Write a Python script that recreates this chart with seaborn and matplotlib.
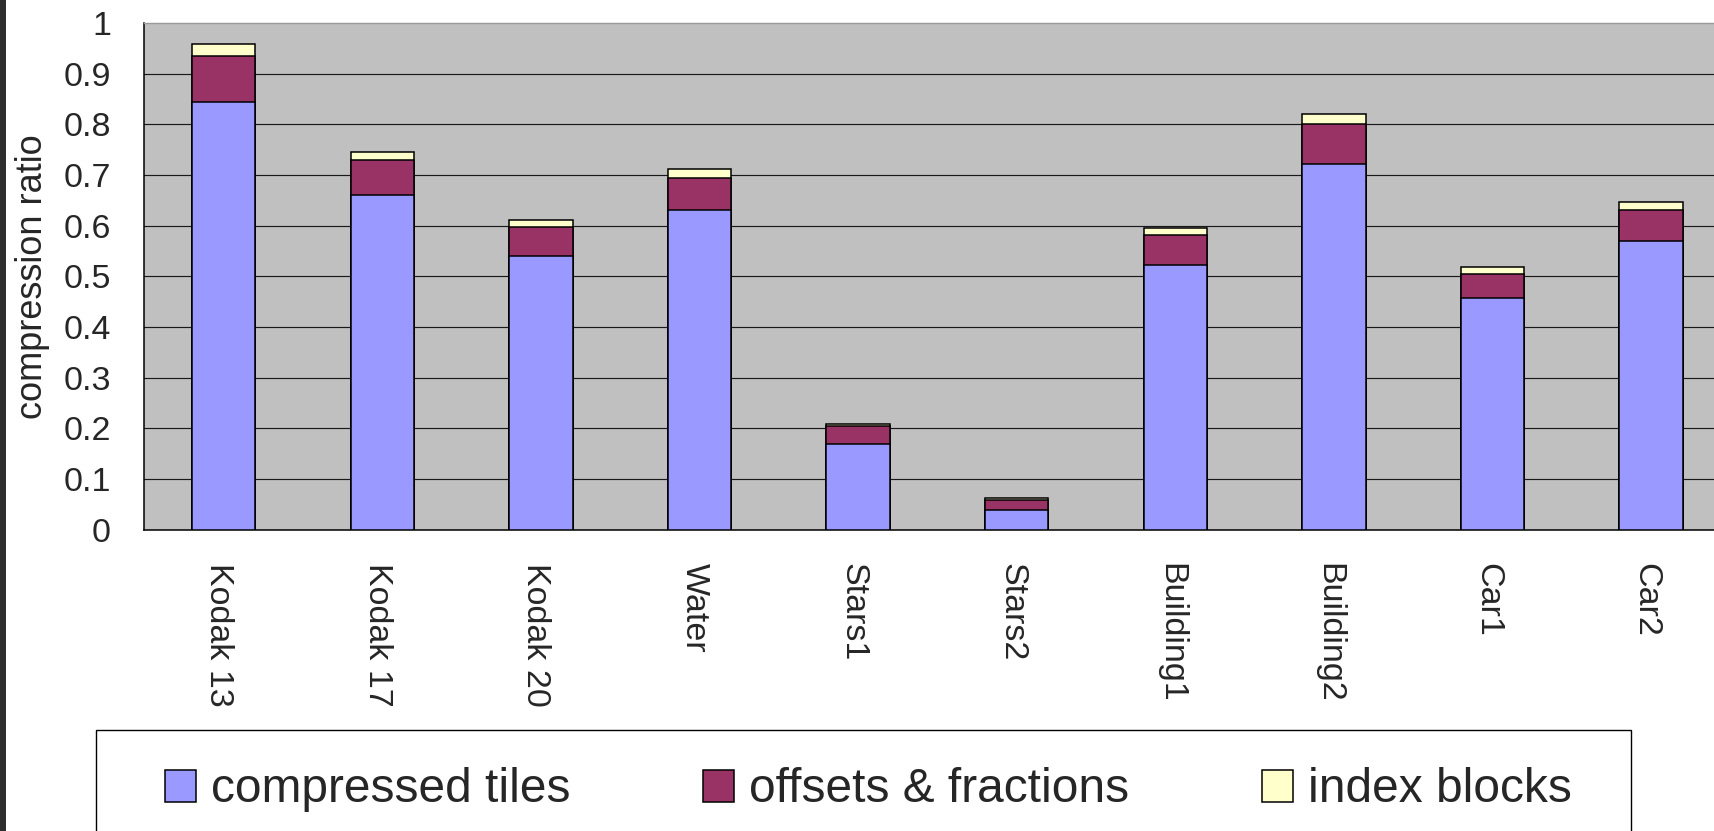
import numpy as np
import pandas as pd
import matplotlib
matplotlib.use("Agg")
import matplotlib.pyplot as plt
import matplotlib.transforms as mtransforms
from matplotlib.patches import Rectangle
import seaborn as sns

# ---- data -------------------------------------------------------------
images = ["Kodak 13", "Kodak 17", "Kodak 20", "Water", "Stars1",
          "Stars2", "Building1", "Building2", "Car1", "Car2"]
compressed_tiles = [0.845, 0.661, 0.540, 0.631, 0.168, 0.038, 0.523, 0.722, 0.458, 0.569]
offsets_fractions = [0.089, 0.068, 0.058, 0.062, 0.036, 0.021, 0.059, 0.078, 0.047, 0.061]
index_blocks = [0.024, 0.017, 0.013, 0.018, 0.004, 0.004, 0.014, 0.020, 0.014, 0.017]
series_names = ["compressed tiles", "offsets & fractions", "index blocks"]
y_ticks = [0, 0.1, 0.2, 0.3, 0.4, 0.5, 0.6, 0.7, 0.8, 0.9, 1]
y_ticklabels = ["0", "0.1", "0.2", "0.3", "0.4", "0.5", "0.6", "0.7", "0.8", "0.9", "1"]

df = pd.DataFrame({
    "image": images,
    "compressed": compressed_tiles,
    "offsets": offsets_fractions,
    "index": index_blocks,
})
# cumulative heights for the stacked look
df["lvl1"] = df["compressed"]
df["lvl2"] = df["lvl1"] + df["offsets"]
df["lvl3"] = df["lvl2"] + df["index"]

# ---- style ------------------------------------------------------------
sns.set_style("white")
plt.rcParams["font.family"] = ["Liberation Sans", "DejaVu Sans"]

c_blue = "#9999FF"
c_red = "#993366"
c_yellow = "#FFFFCC"
c_bg = "#C0C0C0"

W, H, DPI = 1715, 831, 100
fig = plt.figure(figsize=(W / DPI, H / DPI), dpi=DPI)
fig.patch.set_facecolor("white")

# plot area in pixel coordinates (runs past the right figure edge)
ax_left, ax_right, ax_top, ax_bottom = 144.4, 1730.4, 23.0, 529.5
ax = fig.add_axes([ax_left / W, 1 - ax_bottom / H,
                   (ax_right - ax_left) / W, (ax_bottom - ax_top) / H])
ax.set_facecolor(c_bg)

bar_kw = dict(order=images, width=0.4, edgecolor="black", linewidth=1.1,
              errorbar=None, saturation=1, ax=ax, zorder=3)
sns.barplot(data=df, x="image", y="lvl3", color=c_yellow, **bar_kw)
sns.barplot(data=df, x="image", y="lvl2", color=c_red, **bar_kw)
sns.barplot(data=df, x="image", y="lvl1", color=c_blue, **bar_kw)

ax.set_xlim(-0.5, len(images) - 0.5)
ax.set_ylim(0, 1)
ax.set_xlabel("")
ax.set_ylabel("compression ratio", fontsize=26)
ax.yaxis.set_label_coords((33 - ax_left) / (ax_right - ax_left), 0.5)
ax.yaxis.label.set_verticalalignment("center")

# gridlines
ax.set_yticks(y_ticks)
ax.set_yticklabels(y_ticklabels)
for v in y_ticks[1:-1]:
    ax.axhline(v, color="#1a1a1a", linewidth=0.85, zorder=1)

# spines
for s in ["left", "bottom"]:
    ax.spines[s].set_color("black")
    ax.spines[s].set_linewidth(1.1)
ax.spines["top"].set_color("#9a9a9a")
ax.spines["top"].set_linewidth(1.0)
ax.spines["right"].set_visible(False)

# ticks
ax.tick_params(axis="y", direction="in", length=10, width=0.9, color="black",
               labelsize=24.5, pad=24)
ax.tick_params(axis="x", which="major", length=0, labelsize=24.5, pad=24)
ax.set_xticks(np.arange(-0.5, len(images), 1.0), minor=True)
ax.tick_params(axis="x", which="minor", direction="in", length=9.5, width=1.0,
               color="#404040")
ax.set_xticks(range(len(images)))
ax.set_xticklabels(images, rotation=-90, ha="center", va="top")
shift = mtransforms.ScaledTranslation(-5 / DPI, 0, fig.dpi_scale_trans)
for lab in ax.get_xticklabels():
    lab.set_transform(lab.get_transform() + shift)

# legend (blue, red, yellow order)
conts = ax.containers
handles = [conts[2], conts[1], conts[0]]
fs_leg = 34.5
fig.legend(handles, series_names, loc="center left",
           bbox_to_anchor=(165 / W, 1 - 790 / H), bbox_transform=fig.transFigure,
           ncol=3, frameon=False, fontsize=fs_leg, borderpad=0, borderaxespad=0,
           handlelength=0.65, handleheight=0.65, handletextpad=0.3,
           columnspacing=2.78)
fig.add_artist(Rectangle((96 / W, -0.05), (1631 - 96) / W, 0.05 + 1 - 730 / H,
                         transform=fig.transFigure, fill=False,
                         edgecolor="black", linewidth=1.0, clip_on=False))

# dark strip along the left edge
fig.add_artist(Rectangle((0, 0), 6.5 / W, 1, transform=fig.transFigure,
                         facecolor="#2e2e2e", edgecolor="none"))

fig.savefig("out.png", dpi=DPI)
